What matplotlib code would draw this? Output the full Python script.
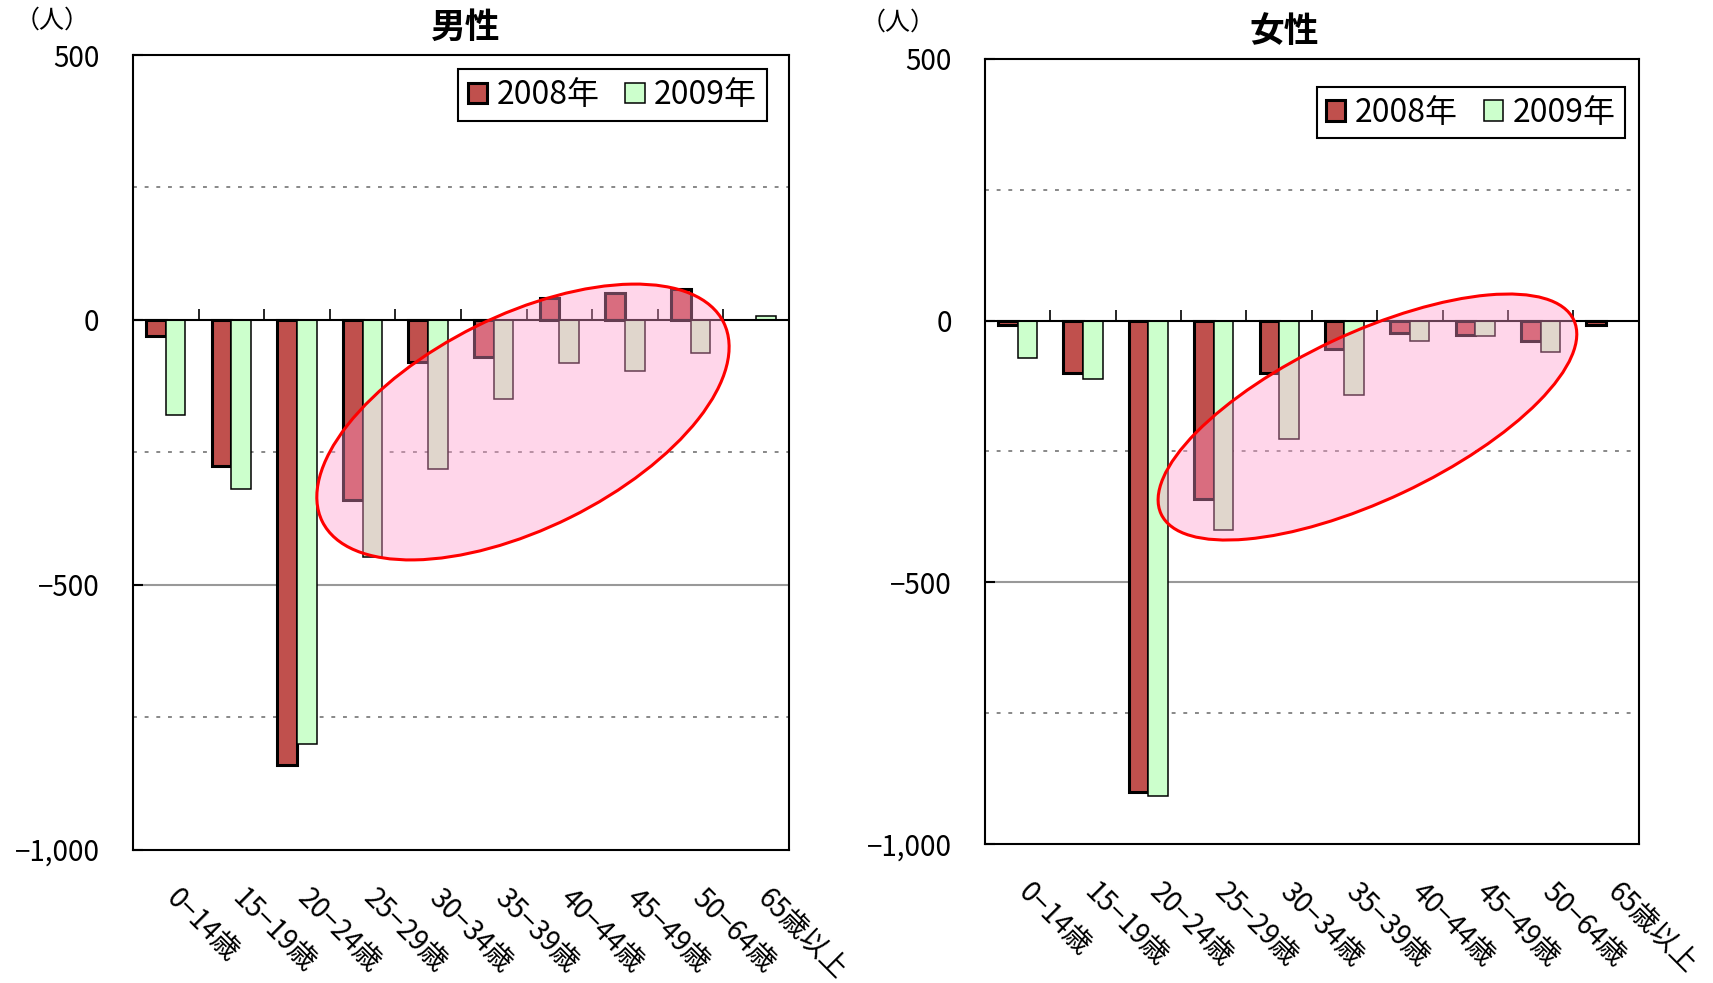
import numpy as np
import matplotlib
matplotlib.use('Agg')
import matplotlib.pyplot as plt
from matplotlib.patches import Ellipse, Patch
from matplotlib.transforms import IdentityTransform, ScaledTranslation

plt.rcParams['font.family'] = ['Noto Sans CJK JP', 'DejaVu Sans']

age_groups = ['0−14歳', '15−19歳', '20−24歳', '25−29歳', '30−34歳',
              '35−39歳', '40−44歳', '45−49歳', '50−64歳', '65歳以上']

male_2008 = [-30, -275, -840, -340, -80, -70, 42, 50, 58, np.nan]
male_2009 = [-180, -320, -800, -447, -282, -150, -82, -97, -63, 8]
female_2008 = [-8, -100, -900, -340, -100, -54, -23, -27, -39, -8]
female_2009 = [-72, -111, -908, -400, -226, -142, -38, -30, -60, 0]

series_names = ['2008年', '2009年']
y_ticks = [500, 0, -500, -1000]
y_tick_labels = ['500', '0', '−500', '−1,000']
minor_ticks = [250, -250, -750]

RED = '#C0504D'
GREEN = '#CCFFCC'
WIDTH = 0.3


def draw_panel(fig, ax, v2008, v2009, title, title_x, legend_anchor):
	x = np.arange(len(age_groups))
	ax.bar(x - WIDTH / 2, v2008, WIDTH, color=RED, edgecolor='black',
		   linewidth=2.2, zorder=3)
	ax.bar(x + WIDTH / 2, v2009, WIDTH, color=GREEN, edgecolor='black',
		   linewidth=1.1, zorder=3)

	ax.set_xlim(-0.5, len(age_groups) - 0.5)
	ax.set_ylim(-1000, 500)

	# grid: solid at -500, dotted at the quarter steps
	ax.axhline(-500, color='#999999', lw=1.5, zorder=1)
	for v in minor_ticks:
		ax.axhline(v, color='#888888', lw=1.4, linestyle=(0, (2, 4)), zorder=1)
	ax.axhline(0, color='black', lw=1.5, zorder=4)
	# category separators sitting on the zero line
	ax.vlines(np.arange(len(age_groups) - 1) + 0.5, 0, 20, color='black',
			  lw=1.2, zorder=4)

	ax.set_yticks(y_ticks)
	ax.set_yticklabels(y_tick_labels, fontsize=20)
	ax.tick_params(axis='y', direction='in', length=7, width=1.5, pad=24)

	ax.set_xticks(x)
	ax.set_xticklabels(age_groups, fontsize=20, rotation=-45,
					   ha='left', va='top', rotation_mode='anchor')
	ax.tick_params(axis='x', length=0, pad=24)
	shift = ScaledTranslation(0.16, 0, fig.dpi_scale_trans)
	for lab in ax.get_xticklabels():
		lab.set_transform(lab.get_transform() + shift)

	for s in ax.spines.values():
		s.set_linewidth(1.5)

	ax.text(title_x, 1.035, title, transform=ax.transAxes, ha='center',
			va='center', fontsize=25, fontweight='bold')

	handles = [Patch(facecolor=RED, edgecolor='black', linewidth=2.2),
			   Patch(facecolor=GREEN, edgecolor='black', linewidth=1.1)]
	leg = ax.legend(handles, series_names, loc='upper right',
					bbox_to_anchor=legend_anchor, borderaxespad=0, ncol=2,
					fontsize=23, handlelength=0.6, handleheight=0.6,
					handletextpad=0.3, columnspacing=0.8, borderpad=0.3,
					fancybox=False, framealpha=1, edgecolor='black')
	leg.get_frame().set_linewidth(1.5)
	leg.set_zorder(6)


def add_highlight(ax, center, width, height, angle):
	cx, cy = ax.transAxes.transform(center)
	ell = Ellipse((cx, cy), width, height, angle=angle,
				  transform=IdentityTransform(),
				  facecolor=(1.0, 0.6, 0.8, 0.4), edgecolor='red',
				  linewidth=2.2, zorder=5)
	ax.add_patch(ell)
	ax.set_xlim(-0.5, len(age_groups) - 0.5)
	ax.set_ylim(-1000, 500)


fig = plt.figure(figsize=(17.13, 9.83), dpi=100)
ax_m = fig.add_axes([0.0776, 0.1358, 0.3830, 0.8082])
ax_f = fig.add_axes([0.5750, 0.1414, 0.3816, 0.7986])

draw_panel(fig, ax_m, male_2008, male_2009, '男性', 0.508, (0.966, 0.982))
draw_panel(fig, ax_f, female_2008, female_2009, '女性', 0.457, (0.979, 0.964))

add_highlight(ax_m, (0.5945, 0.5381), 448, 213, 26.4)
add_highlight(ax_f, (0.5851, 0.5439), 456, 167, 25.2)

fig.text(52 / 1713, 1 - 21 / 983, '（人）', ha='center', va='center', fontsize=18)
fig.text(898 / 1713, 1 - 23 / 983, '（人）', ha='center', va='center', fontsize=18)

fig.savefig('out.png', dpi=100)
